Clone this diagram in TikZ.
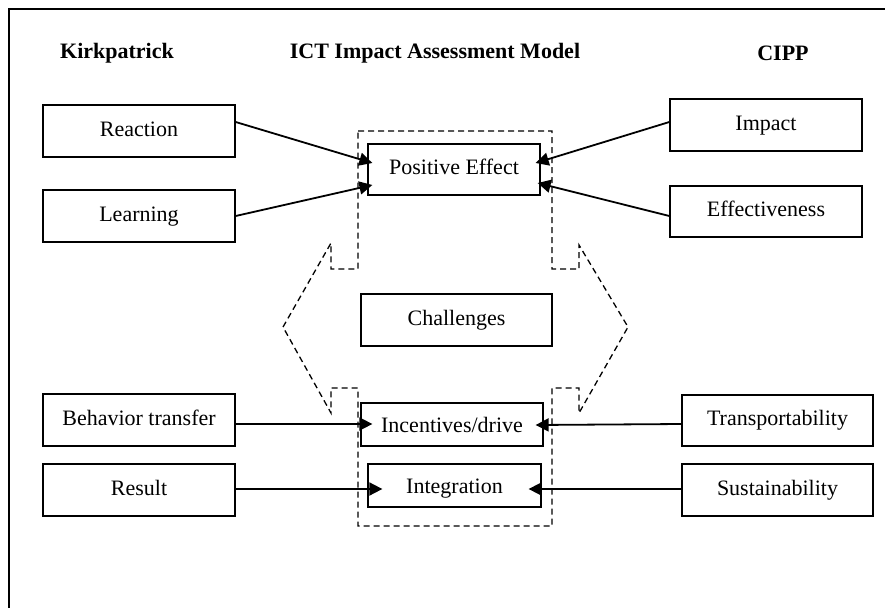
\documentclass[tikz,border=0pt]{standalone}
\usepackage{fontspec}
\setmainfont{Liberation Serif}
\usetikzlibrary{arrows.meta}
\begin{document}
\begin{tikzpicture}[x=1pt,y=-1pt,
  box/.style={draw, line width=1.3pt, inner sep=0pt, text height=15pt, text depth=5pt,
    font=\fontsize{22}{24}\selectfont},
  lowtext/.style={text height=19pt, text depth=3pt},
  head/.style={font=\fontsize{22}{24}\selectfont\bfseries, inner sep=0pt},
  link/.style={line width=1.8pt, -{Triangle[length=13pt,width=13pt]}},
  zone/.style={draw, line width=1.3pt, dash pattern=on 6pt off 4pt}]
\useasboundingbox (0,0) rectangle (885,607);
% open frame (left and top edges)
\draw[line width=1.3pt] (9,620) -- (9,9) -- (900,9);

% column headings
\node[head] (hk) at (117,53) {Kirkpatrick};
\node[head] (hm) at (435,53) {ICT Impact Assessment Model};
\node[head] (hc) at (783,53) {CIPP};

% Kirkpatrick levels
\node[box, minimum width=192pt, minimum height=52pt] (reaction) at (139,131) {Reaction};
\node[box, minimum width=192pt, minimum height=52pt] (learning) at (139,216) {Learning};
\node[box, minimum width=192pt, minimum height=52pt] (behav) at (139,420) {Behavior transfer};
\node[box, minimum width=192pt, minimum height=52pt] (result) at (139,490) {Result};

% CIPP components
\node[box, minimum width=192pt, minimum height=52pt] (impact) at (766,125) {Impact};
\node[box, minimum width=192pt, minimum height=51pt] (effect) at (766,211.5) {Effectiveness};
\node[box, minimum width=191pt, minimum height=51pt] (transp) at (777.5,420.5) {Transportability};
\node[box, minimum width=191pt, minimum height=52pt] (sustain) at (777.5,490) {Sustainability};

% model core
\node[box, minimum width=172pt, minimum height=51pt] (pe) at (454,169.5) {Positive Effect};
\node[box, minimum width=191pt, minimum height=52pt] (chall) at (456.5,320) {Challenges};
\node[box, lowtext, minimum width=182pt, minimum height=43pt] (incent) at (452,424.5) {Incentives/drive};
\node[box, lowtext, minimum width=173pt, minimum height=43pt] (integ) at (454.5,485.5) {Integration};

% dashed outline of the model
\draw[zone] (358,131) -- (552,131) -- (552,269) -- (579,269) -- (579,245)
  -- (628,327) -- (579,413) -- (579,388) -- (552,388) -- (552,526)
  -- (358,526) -- (358,388) -- (331,388) -- (331,413) -- (283,327)
  -- (331,243) -- (331,269) -- (358,269) -- cycle;

% connectors
\draw[link] ([yshift=9pt]reaction.east) -- ([xshift=5pt,yshift=6.5pt]pe.west);
\draw[link] (learning.east) -- ([xshift=5pt,yshift=-15.5pt]pe.west);
\draw[link] ([yshift=3pt]impact.west) -- ([xshift=-5pt,yshift=6.5pt]pe.east);
\draw[link] ([yshift=-4.5pt]effect.west) -- ([xshift=-3pt,yshift=-13.5pt]pe.east);
\draw[link] ([yshift=-4pt]behav.east) -- ([xshift=12pt,yshift=0.5pt]incent.west);
\draw[link] ([yshift=1pt]result.east) -- ([xshift=15pt,yshift=-3.5pt]integ.west);
\draw[link] ([yshift=-3.5pt]transp.west) -- ([xshift=-8pt,yshift=-0.5pt]incent.east);
\draw[link] ([yshift=1pt]sustain.west) -- ([xshift=-13pt,yshift=-3.5pt]integ.east);
\end{tikzpicture}
\end{document}
